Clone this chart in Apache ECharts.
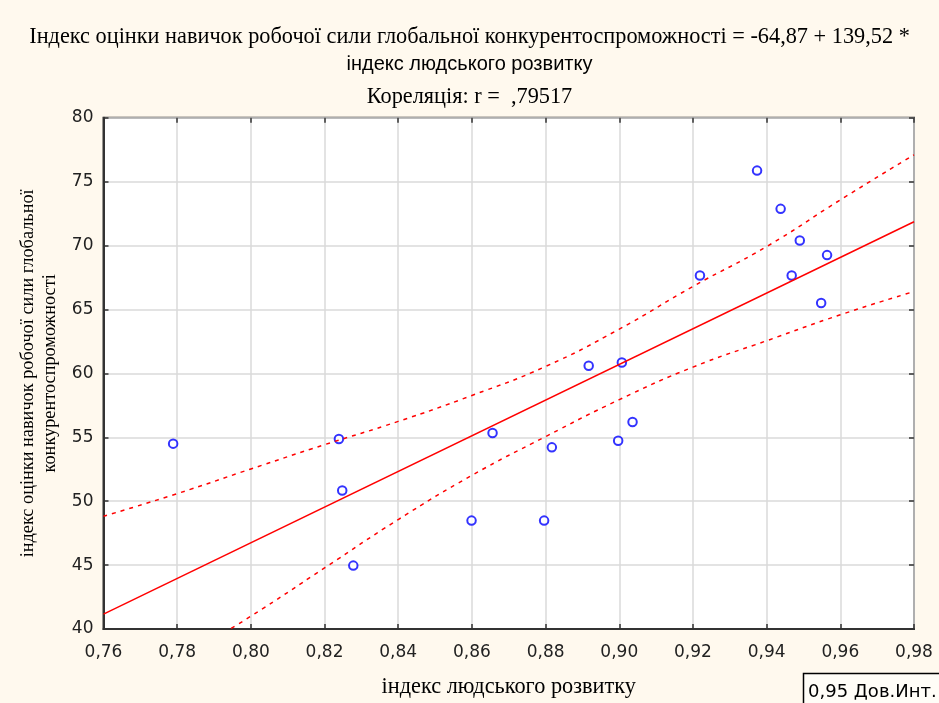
<!DOCTYPE html>
<html>
<head>
<meta charset="utf-8">
<script src="https://cdn.jsdelivr.net/npm/echarts@6/dist/echarts.min.js"></script>
<style>
html,body{margin:0;padding:0;background:#FFF9EE;}
#chart{width:939px;height:703px;}
</style>
</head>
<body>
<div id="chart"></div>
<script>
// Scatter data: human development index vs. workforce skills index
const hdi = [0.7789,0.8239,0.8248,0.8278,0.8599,0.8656,0.8796,0.8817,0.8917,0.8997,0.9007,0.9036,0.9219,0.9374,0.9438,0.9468,0.9490,0.9548,0.9564];
const skills = [54.5,54.87,50.83,44.96,48.48,55.33,48.48,54.21,60.6,54.73,60.85,56.2,67.65,75.86,72.87,67.65,70.39,65.5,69.25];

// Regression line endpoints (y = -64.87 + 139.52*x)
const fitX = [0.76, 0.98];
const fitY = [41.16, 71.86];

// 95% confidence band
const bandX = [0.76,0.78,0.80,0.82,0.84,0.86,0.88,0.90,0.92,0.94,0.96,0.98];
const bandUpper = [48.82,50.59,52.52,54.42,56.24,58.27,60.54,63.46,66.8,69.92,73.57,77.1];
const bandLower = [33.5,37.5,41.0,44.78,48.56,52.02,55.05,57.94,60.49,62.55,64.58,66.4];

const xTicks = ['0,76','0,78','0,80','0,82','0,84','0,86','0,88','0,90','0,92','0,94','0,96','0,98'];

const titleLine1 = 'Індекс оцінки навичок робочої сили глобальної конкурентоспроможності = -64,87 + 139,52 *';
const titleLine2 = 'індекс людського розвитку';
const titleLine3 = 'Кореляція: r =  ,79517';
const xName = 'індекс людського розвитку';
const yName = 'індекс оцінки навичок робочої сили глобальної\nконкурентоспроможності';
const legendText = '0,95 Дов.Инт.';

const zip = (a,b) => a.map((v,i)=>[v,b[i]]);

const chart = echarts.init(document.getElementById('chart'));
const tickStyle = {show:true, inside:true, length:5, lineStyle:{color:'#333', width:1.5}};
chart.setOption({
  backgroundColor:'#FFF9EE',
  animation:false,
  title:[
    {text:titleLine1, left:'center', top:21, textStyle:{fontFamily:'Liberation Serif', fontSize:22.3, fontWeight:'normal', color:'#000'}},
    {text:titleLine2, left:'center', top:49, textStyle:{fontFamily:'Liberation Sans', fontSize:20, fontWeight:'normal', color:'#000'}},
    {text:titleLine3, left:'center', top:81, textStyle:{fontFamily:'Liberation Serif', fontSize:22.3, fontWeight:'normal', color:'#000'}}
  ],
  grid:{left:103.5, top:117.7, right:25, bottom:73.5, show:true, backgroundColor:'#fff', borderColor:'#333', borderWidth:2},
  xAxis:[{
    type:'value', min:0.76, max:0.98, interval:0.02,
    name:xName, nameLocation:'middle', nameGap:47,
    nameTextStyle:{fontFamily:'Liberation Serif', fontSize:22.3, color:'#000'},
    axisLine:{show:true, lineStyle:{color:'#333', width:2}},
    axisTick:tickStyle,
    axisLabel:{fontFamily:'DejaVu Sans', fontSize:17, color:'#222', margin:15,
      formatter:(v)=>{const i=Math.round((v-0.76)/0.02); return xTicks[i]||'';}},
    splitLine:{show:true, lineStyle:{color:'#DADADA', width:1.5}}
  },{
    type:'value', position:'top', min:0.76, max:0.98, interval:0.02,
    axisLine:{show:false}, axisTick:tickStyle, axisLabel:{show:false}, splitLine:{show:false}
  }],
  yAxis:[{
    type:'value', min:40, max:80, interval:5,
    name:yName, nameLocation:'middle', nameGap:36, nameRotate:90,
    nameTextStyle:{fontFamily:'Liberation Serif', fontSize:18.3, color:'#000', lineHeight:21.6},
    axisLine:{show:true, lineStyle:{color:'#333', width:2}},
    axisTick:tickStyle,
    axisLabel:{fontFamily:'DejaVu Sans', fontSize:17, color:'#222', margin:10},
    splitLine:{show:true, lineStyle:{color:'#DADADA', width:1.5}}
  },{
    type:'value', position:'right', min:40, max:80, interval:5,
    axisLine:{show:false}, axisTick:tickStyle, axisLabel:{show:false}, splitLine:{show:false}
  }],
  series:[
    {type:'line', data:zip(bandX,bandUpper), smooth:true, symbol:'none', clip:true,
      lineStyle:{color:'#FF0000', width:1.5, type:[4,5]}},
    {type:'line', data:zip(bandX,bandLower), smooth:true, symbol:'none', clip:true,
      lineStyle:{color:'#FF0000', width:1.5, type:[4,5]}},
    {type:'line', data:zip(fitX,fitY), symbol:'none', clip:true,
      lineStyle:{color:'#FF0000', width:1.5}},
    {type:'scatter', data:zip(hdi,skills), symbol:'emptyCircle', symbolSize:8.5,
      itemStyle:{color:'#0000FF', borderColor:'#0000FF', borderWidth:1.8}}
  ],
  graphic:[
    {type:'rect', shape:{x:803.5, y:673.5, width:150, height:40}, style:{fill:'#FFFDF7', stroke:'#000', lineWidth:1.5}},
    {type:'text', x:808, y:692, style:{text:legendText, fontFamily:'DejaVu Sans', fontSize:18, fill:'#000', textVerticalAlign:'middle'}}
  ]
});
</script>
</body>
</html>
